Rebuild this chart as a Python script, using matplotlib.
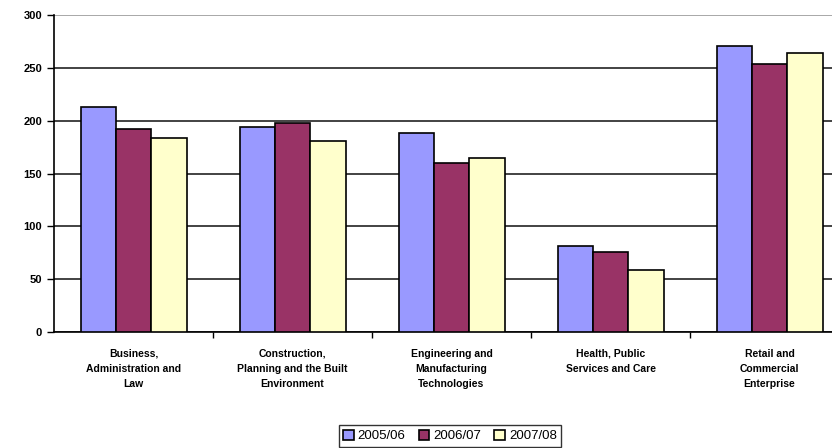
import matplotlib
matplotlib.use("Agg")
import matplotlib.pyplot as plt
import numpy as np

categories = ["Business,\nAdministration and\nLaw",
              "Construction,\nPlanning and the Built\nEnvironment",
              "Engineering and\nManufacturing\nTechnologies",
              "Health, Public\nServices and Care",
              "Retail and\nCommercial\nEnterprise"]
series_names = ["2005/06", "2006/07", "2007/08"]
v0506 = [213, 194, 188, 81, 271]
v0607 = [192, 198, 160, 76, 254]
v0708 = [184, 181, 165, 59, 264]
colors = ["#9999FF", "#993366", "#FFFFCC"]

plt.rcParams['font.family'] = ['Liberation Sans', 'DejaVu Sans']

fig = plt.figure(figsize=(8.32, 4.48), dpi=100)
W, H = 832, 448
left, right, top, bottom = 54, 849, 15, 332
ax = fig.add_axes([left / W, (H - bottom) / H, (right - left) / W, (bottom - top) / H])

x = np.arange(len(categories))
bw = 1 / 4.5
for i, (vals, c, name) in enumerate(zip([v0506, v0607, v0708], colors, series_names)):
    ax.bar(x + (i - 1) * bw, vals, width=bw, color=c, edgecolor="black", linewidth=1.2,
           label=name, zorder=3)

ax.set_xlim(-0.5, len(categories) - 0.5)
ax.set_ylim(0, 300)
ax.set_yticks(range(0, 301, 50))
ax.tick_params(axis='y', labelsize=8, length=5, width=1, direction='out')
for lab in ax.get_yticklabels():
    lab.set_fontweight('bold')
ax.yaxis.grid(True, color="#222222", linewidth=1.2, zorder=0)
ax.set_axisbelow(True)
gl = ax.get_ygridlines()
gl[-1].set_color("#999999")

ax.set_xticks(x)
ax.set_xticklabels(categories, fontsize=7.5, fontweight='bold', linespacing=1.65)
ax.tick_params(axis='x', length=0, pad=12)
ax.set_xticks(np.arange(0.5, len(categories) - 0.5, 1), minor=True)
ax.tick_params(axis='x', which='minor', length=4, width=1, direction='out')

for s in ["top", "right"]:
    ax.spines[s].set_visible(False)
ax.spines["left"].set_linewidth(1.2)
ax.spines["bottom"].set_linewidth(1.2)

leg = fig.legend(loc="center", bbox_to_anchor=(450 / W, (H - 436) / H), ncol=3,
                 fontsize=9.5, frameon=True, fancybox=False, edgecolor="black",
                 handlelength=0.8, handleheight=0.8, handletextpad=0.3,
                 columnspacing=1.0, borderpad=0.35)
leg.get_frame().set_linewidth(1.0)

fig.savefig("out.png", dpi=100)
